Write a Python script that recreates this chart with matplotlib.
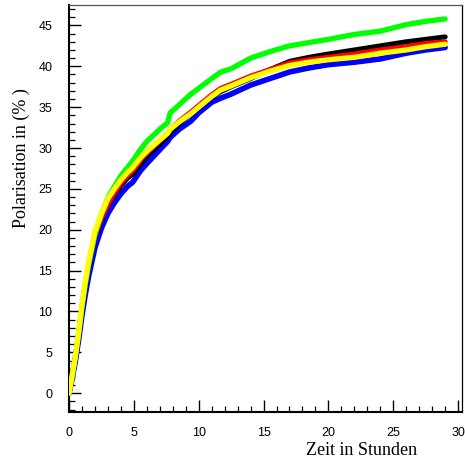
import matplotlib
matplotlib.use("Agg")
import matplotlib.pyplot as plt
from matplotlib.ticker import MultipleLocator

# Time in hours
t = [0, 0.25, 0.5, 0.75, 1.0, 1.25, 1.5, 2.0, 2.5, 3.0, 3.5, 4.0, 4.5, 4.9,
     5.5, 6.0, 7.0, 7.6, 7.8, 8.5, 9.4, 10.0, 11.0, 11.7, 12.5, 14.0, 15.5,
     17.0, 18.5, 20.0, 22.0, 24.0, 26.0, 27.5, 29.0]

green = [0, 2.2, 4.6, 7.4, 10.6, 13.3, 15.6, 19.5, 21.9, 23.9, 25.3, 26.6, 27.6, 28.4,
         29.8, 30.8, 32.3, 33.1, 34.3, 35.3, 36.6, 37.3, 38.5, 39.3, 39.7, 41.0, 41.8,
         42.5, 42.9, 43.3, 43.9, 44.3, 45.1, 45.5, 45.8]
black = [0, 2.1, 4.5, 7.3, 10.5, 13.2, 15.5, 19.3, 21.4, 23.0, 24.3, 25.4, 26.3, 26.8,
         28.0, 29.0, 30.5, 31.4, 31.9, 33.0, 34.2, 35.0, 36.2, 36.9, 37.5, 38.5, 39.6,
         40.6, 41.1, 41.5, 42.0, 42.5, 43.0, 43.3, 43.6]
red = [0, 2.1, 4.5, 7.3, 10.5, 13.2, 15.5, 19.2, 21.4, 23.1, 24.5, 25.7, 26.6, 27.2,
       28.5, 29.4, 30.9, 31.8, 32.3, 33.3, 34.4, 35.2, 36.5, 37.3, 37.8, 38.8, 39.6,
       40.4, 40.8, 41.1, 41.5, 42.0, 42.4, 42.8, 43.0]
yellow = [0, 2.2, 4.6, 7.5, 10.8, 13.6, 16.0, 19.8, 22.0, 23.8, 25.0, 26.1, 27.0, 27.6,
          28.8, 29.6, 31.0, 31.8, 32.3, 33.2, 34.2, 35.0, 36.3, 37.1, 37.6, 38.6, 39.4,
          40.1, 40.5, 40.8, 41.1, 41.6, 42.0, 42.4, 42.7]
blue = [0, 1.8, 4.0, 6.6, 9.5, 12.0, 14.2, 17.8, 20.2, 22.0, 23.3, 24.4, 25.3, 25.8,
        27.2, 28.1, 29.8, 30.8, 31.3, 32.3, 33.3, 34.3, 35.6, 36.1, 36.6, 37.7, 38.5,
        39.3, 39.8, 40.2, 40.5, 40.9, 41.6, 42.0, 42.3]

xticks = [0, 5, 10, 15, 20, 25, 30]
yticks = [0, 5, 10, 15, 20, 25, 30, 35, 40, 45]

W, H = 465, 461
fig = plt.figure(figsize=(W / 100, H / 100), dpi=100)
ax = fig.add_axes([69 / W, 1 - 412 / H, (462 - 69) / W, (412 - 5) / H])

ax.plot(t, blue, color="#0000ff", lw=4.0, solid_capstyle="round",
        solid_joinstyle="round", zorder=2)
ax.plot(t, black, color="#000000", lw=3.6, solid_capstyle="round",
        solid_joinstyle="round", zorder=3)
ax.plot(t, red, color="#ff0000", lw=3.6, solid_capstyle="round",
        solid_joinstyle="round", zorder=4)
ax.plot(t, green, color="#00ff00", lw=3.8, solid_capstyle="round",
        solid_joinstyle="round", zorder=5)
ax.plot(t, yellow, color="#ffff00", lw=3.8, solid_capstyle="round",
        solid_joinstyle="round", zorder=6)

ax.set_xlim(0, 30.3)
ax.set_ylim(-2.3, 47.5)
ax.set_xticks(xticks)
ax.set_yticks(yticks)
ax.xaxis.set_minor_locator(MultipleLocator(1))
ax.yaxis.set_minor_locator(MultipleLocator(1))

tickfont = dict(family="Liberation Sans", size=9)
ax.set_xticklabels([str(v) for v in xticks], **tickfont)
ax.set_yticklabels([str(v) for v in yticks], **tickfont)

ax.tick_params(which="major", direction="in", length=8.6, width=1.0,
               top=False, right=False, color="black")
ax.tick_params(which="minor", direction="in", length=4.0, width=0.9,
               top=False, right=False, color="black")
ax.tick_params(axis="y", which="major", pad=12)
ax.tick_params(axis="x", which="major", pad=11)

for side in ("left", "bottom"):
    ax.spines[side].set_linewidth(1.5)
    ax.spines[side].set_color("black")
ax.spines["top"].set_linewidth(0.9)
ax.spines["top"].set_color("#555555")
ax.spines["right"].set_linewidth(0.9)
ax.spines["right"].set_color("black")

fig.text(21 / W, 1 - 158 / H, "Polarisation in (% )", rotation=90,
         ha="center", va="center", family="Liberation Serif", fontsize=13)
fig.text(362 / W, 1 - 450 / H, "Zeit in Stunden",
         ha="center", va="center", family="Liberation Serif", fontsize=13)

fig.savefig("out.png", dpi=100)
